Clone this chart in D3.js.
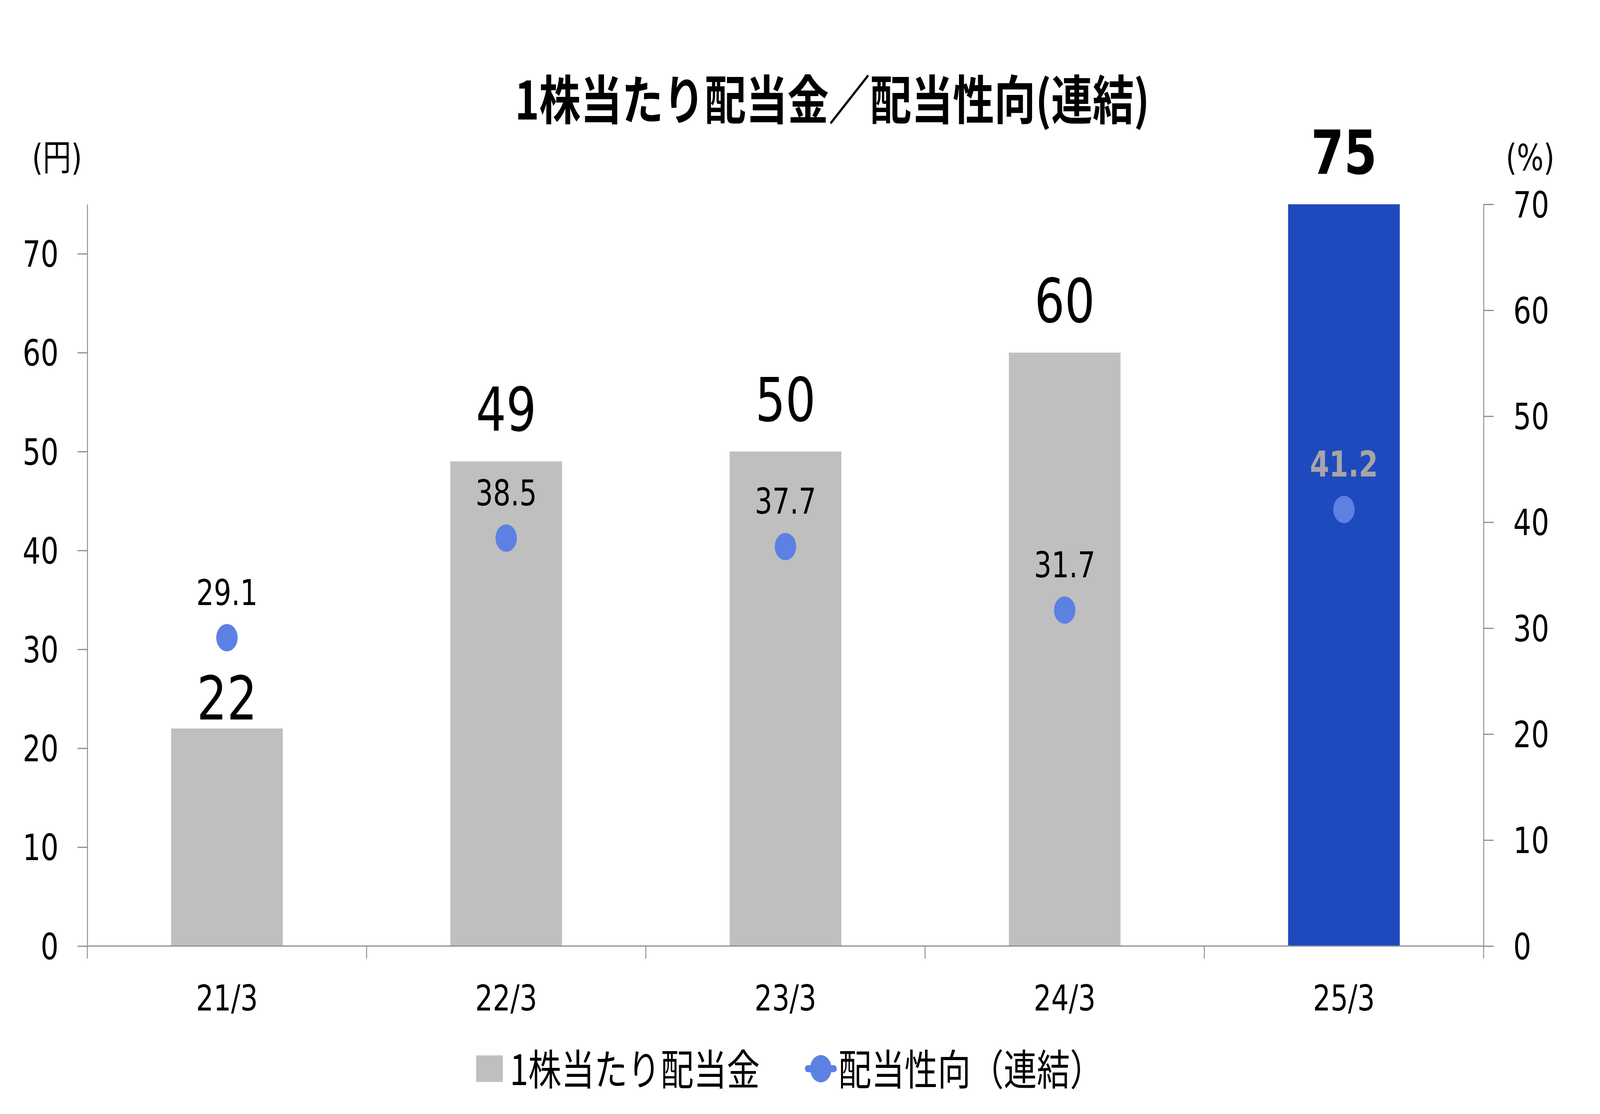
<!DOCTYPE html>
<html>
<head>
<meta charset="utf-8">
<script src="https://cdn.jsdelivr.net/npm/d3@7/dist/d3.min.js"></script>
<style>
  html, body { margin: 0; padding: 0; background: #ffffff; overflow: hidden; }
  svg { display: block; }
</style>
</head>
<body>
<script>
// ---- data ----
const categories = ["21/3", "22/3", "23/3", "24/3", "25/3"];
const dividendPerShare = [22, 49, 50, 60, 75];          // 円
const payoutRatio = [29.1, 38.5, 37.7, 31.7, 41.2];     // %
const leftTicks = [0, 10, 20, 30, 40, 50, 60, 70];
const rightTicks = [0, 10, 20, 30, 40, 50, 60, 70];
const titleText = "1株当たり配当金／配当性向(連結)";
const leftUnit = "(円)";
const rightUnit = "(%)";
const legendBar = "1株当たり配当金";
const legendLine = "配当性向（連結）";

// ---- layout (drawn in the reference's 5222 x 2852 coordinate frame, fitted to the window) ----
const W = 5222, H = 2852;
const plotL = 285, plotR = 4842, plotT = 523, plotB = 2422;
const numFont = "'DejaVu Sans', 'Noto Sans CJK JP', sans-serif";
const jpFont = "'Noto Sans CJK JP', 'Noto Sans', sans-serif";
const axisColor = "#8C8C8C";
const grayBar = "#BFBFBF";
const blueBar = "#1F4ABD";
const dotColor = "#5D80E3";

const svg = d3.select("body").append("svg")
  .attr("width", window.innerWidth || W).attr("height", window.innerHeight || H)
  .attr("viewBox", `0 0 ${W} ${H}`)
  .attr("preserveAspectRatio", "none");

const x = d3.scaleBand().domain(categories)
  .range([plotL, plotR]).paddingInner(0.6).paddingOuter(0.3);
const yL = d3.scaleLinear().domain([0, 75]).range([plotB, plotT]);
const yR = d3.scaleLinear().domain([0, 70]).range([plotB, plotT]);

// ---- title ----
svg.append("text")
  .attr("x", 2716).attr("y", 306)
  .attr("text-anchor", "middle")
  .attr("font-family", jpFont).attr("font-weight", 700)
  .attr("font-size", 135).attr("fill", "#000")
  .text(titleText);

// ---- unit labels ----
svg.append("text").attr("x", 186).attr("y", 436).attr("text-anchor", "middle")
  .attr("font-family", numFont).attr("font-size", 92).attr("fill", "#000").text(leftUnit);
svg.append("text").attr("x", 4994).attr("y", 436).attr("text-anchor", "middle")
  .attr("font-family", numFont).attr("font-size", 92).attr("fill", "#000").text(rightUnit);

// ---- bars ----
const bars = categories.map((c, i) => ({ c, v: dividendPerShare[i], last: i === categories.length - 1 }));
svg.append("g").selectAll("rect").data(bars).join("rect")
  .attr("x", d => x(d.c))
  .attr("width", x.bandwidth())
  .attr("y", d => yL(d.v))
  .attr("height", d => yL(0) - yL(d.v))
  .attr("fill", d => d.last ? blueBar : grayBar);

// ---- axes ----
const leftAxis = d3.axisLeft(yL).tickValues(leftTicks).tickSize(32).tickSizeOuter(0).tickPadding(62);
const gL = svg.append("g").attr("transform", `translate(${plotL},0)`).call(leftAxis);
const rightAxis = d3.axisRight(yR).tickValues(rightTicks).tickSize(33).tickSizeOuter(0).tickPadding(64);
const gR = svg.append("g").attr("transform", `translate(${plotR},0)`).call(rightAxis);
[gL, gR].forEach(g => {
  g.select(".domain").attr("stroke", axisColor).attr("stroke-width", 3);
  g.selectAll(".tick line").attr("stroke", axisColor).attr("stroke-width", 3);
  g.selectAll(".tick text")
    .attr("font-family", numFont).attr("font-size", 92).attr("fill", "#000")
    .attr("dy", "0.36em");
});

// bottom category axis
const gB = svg.append("g");
gB.append("line").attr("x1", plotL).attr("x2", plotR)
  .attr("y1", yL(0)).attr("y2", yL(0))
  .attr("stroke", axisColor).attr("stroke-width", 3);
const gapHalf = (x.step() - x.bandwidth()) / 2;
const boundaries = categories.map(c => x(c) - gapHalf).concat([x(categories[categories.length - 1]) + x.bandwidth() + gapHalf]);
gB.selectAll("line.bt").data(boundaries).join("line").attr("class", "bt")
  .attr("x1", d => d).attr("x2", d => d)
  .attr("y1", yL(0)).attr("y2", yL(0) + 32)
  .attr("stroke", axisColor).attr("stroke-width", 3);
gB.selectAll("text").data(categories).join("text")
  .attr("x", d => x(d) + x.bandwidth() / 2)
  .attr("y", 2587)
  .attr("text-anchor", "middle")
  .attr("font-family", numFont).attr("font-size", 90).attr("fill", "#000")
  .text(d => d);

// ---- bar value labels ----
const labelNudge = { "21/3": 55 }; // moved down to clear the payout label
svg.append("g").selectAll("text").data(bars).join("text")
  .attr("x", d => x(d.c) + x.bandwidth() / 2)
  .attr("y", d => yL(d.v) - 78 + (labelNudge[d.c] || 0))
  .attr("text-anchor", "middle")
  .attr("font-family", numFont).attr("font-size", 155)
  .attr("font-weight", d => d.last ? 700 : 400)
  .attr("fill", "#000")
  .text(d => d.v);

// ---- payout ratio dots ----
const pts = categories.map((c, i) => ({ c, v: payoutRatio[i], last: i === categories.length - 1 }));
svg.append("g").selectAll("circle").data(pts).join("circle")
  .attr("cx", d => x(d.c) + x.bandwidth() / 2)
  .attr("cy", d => yR(d.v))
  .attr("r", 35)
  .attr("fill", dotColor);
svg.append("g").selectAll("text").data(pts).join("text")
  .attr("x", d => x(d.c) + x.bandwidth() / 2)
  .attr("y", d => yR(d.v) - 84)
  .attr("text-anchor", "middle")
  .attr("font-family", numFont).attr("font-size", 90)
  .attr("font-weight", d => d.last ? 700 : 400)
  .attr("fill", d => d.last ? "#A6A6A6" : "#000")
  .text(d => d.v.toFixed(1));

// ---- legend ----
const lg = svg.append("g");
lg.append("rect").attr("x", 1554).attr("y", 2702).attr("width", 87).attr("height", 68).attr("fill", grayBar);
lg.append("text").attr("x", 1664).attr("y", 2778)
  .attr("font-family", jpFont).attr("font-size", 108).attr("fill", "#000").text(legendBar);
lg.append("line").attr("x1", 2636).attr("x2", 2722).attr("y1", 2736).attr("y2", 2736)
  .attr("stroke", dotColor).attr("stroke-width", 18).attr("stroke-linecap", "round");
lg.append("circle").attr("cx", 2679).attr("cy", 2736).attr("r", 35).attr("fill", dotColor);
lg.append("text").attr("x", 2736).attr("y", 2778)
  .attr("font-family", jpFont).attr("font-size", 108).attr("fill", "#000").text(legendLine);
</script>
</body>
</html>
